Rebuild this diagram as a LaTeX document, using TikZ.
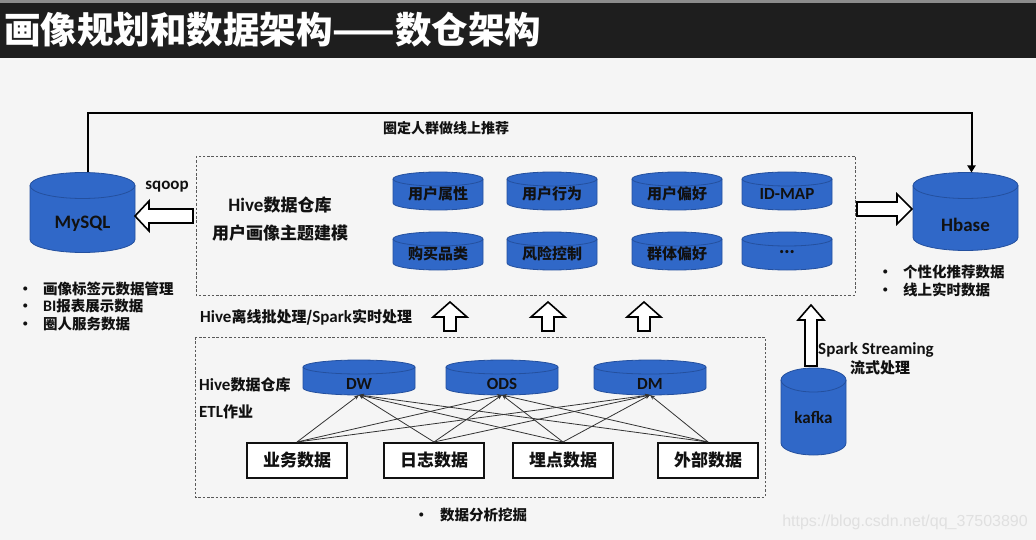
\documentclass[tikz,border=0pt]{standalone}
\usepackage{fontspec}
\setmainfont{Noto Sans CJK SC}
\newfontfamily\lat{Carlito}
\newfontfamily\wmfont{Liberation Sans}
\usetikzlibrary{arrows.meta,calc}
\definecolor{bgcol}{HTML}{F5F5F5}
\definecolor{titlebar}{HTML}{1E1E1E}
\definecolor{cylblue}{HTML}{3068C8}
\definecolor{cyledge}{HTML}{24509E}
\definecolor{ink}{HTML}{111111}
\newcommand\dbcyl[8]{%
  \pgfmathsetmacro\cxl{#2-#4/2}%
  \pgfmathsetmacro\cxr{#2+#4/2}%
  \pgfmathsetmacro\cyt{#3-#5/2+#6}%
  \pgfmathsetmacro\cyb{#3+#5/2-#6}%
  \pgfmathsetmacro\crx{#4/2}%
  \draw[cylbody] (\cxl,\cyt) -- (\cxl,\cyb) arc[start angle=180,end angle=360,x radius=\crx pt,y radius=#6 pt] -- (\cxr,\cyt) arc[start angle=0,end angle=180,x radius=\crx pt,y radius=#6 pt] -- cycle;
  \draw[cylrim] (\cxl,\cyt) arc[start angle=180,end angle=360,x radius=\crx pt,y radius=#6 pt];
  \node[cylnode, minimum width=#4, minimum height=#5] (#1) at (#2,#3) {};
  \node[cyllabel] (#1-l) at (#2,#3+#8) {#7};
}
\begin{document}
\begin{tikzpicture}[x=1pt,y=-1pt,
  cylbody/.style={fill=cylblue, draw=cyledge, line width=0.8pt},
  cylrim/.style={draw=cyledge, line width=0.8pt},
  cylnode/.style={inner sep=0pt, outer sep=0pt, draw=none},
  cyllabel/.style={inner sep=0pt, text=ink, font=\bfseries\fontsize{15}{18}\selectfont},
  txt/.style={inner sep=0pt, text=ink, font=\bfseries\fontsize{15}{18}\selectfont},
  srcbox/.style={draw=ink, line width=2pt, fill=white, minimum width=100, minimum height=35, inner sep=0pt, text=ink, font=\bfseries\fontsize{17}{20}\selectfont},
  dbox/.style={draw=black!65, line width=0.7pt, dash pattern=on 2.5pt off 1.8pt},
  hollow/.style={draw=black, fill=white, line width=1.6pt, line join=miter},
  flow/.style={draw=black!80, line width=0.8pt, -{Stealth[length=5pt,width=4pt]}},
  loopline/.style={draw=black, line width=2pt, -{Triangle[length=7pt,width=8pt]}}
]
\useasboundingbox (0,0) rectangle (1036,540);
\fill[bgcol] (0,0) rectangle (1036,540);
\fill[black!45] (0,0) rectangle (1036,3);
\fill[titlebar] (0,3) rectangle (1036,58);
\node[anchor=west, inner sep=0pt, text=white, font=\bfseries\fontsize{36.5}{40}\selectfont] (title) at (4,30) {画像规划和数据架构——数仓架构};

% dashed regions
\draw[dbox] (196,156) rectangle (855,295);
\draw[dbox] (195,337) rectangle (765,497);

% big cylinders
\dbcyl{mysql}{82.5}{212.5}{105}{80}{13}{{\lat\fontsize{19}{22}\selectfont MySQL}}{11}
\dbcyl{hbase}{965.5}{211.5}{105}{78}{13}{{\lat\fontsize{19}{22}\selectfont Hbase}}{13}
\dbcyl{kafka}{813.5}{411.5}{65}{87}{12}{{\lat\fontsize{17}{20}\selectfont kafka}}{6}

% small cylinders (upper)
\dbcyl{c1}{438}{191}{90}{38}{7}{用户属性}{3}
\dbcyl{c2}{552}{191}{90}{38}{7}{用户行为}{3}
\dbcyl{c3}{677}{191}{90}{38}{7}{用户偏好}{3}
\dbcyl{c4}{787}{191}{90}{38}{7}{{\lat\fontsize{17}{20}\selectfont ID-MAP}}{3}
\dbcyl{c5}{438}{251}{90}{38}{7}{购买品类}{3}
\dbcyl{c6}{552}{251}{90}{38}{7}{风险控制}{3}
\dbcyl{c7}{677}{251}{90}{38}{7}{群体偏好}{3}
\dbcyl{c8}{787}{251}{90}{38}{7}{...}{1}

% lower cylinders
\dbcyl{dw}{359}{377.5}{112}{35}{7}{{\lat\fontsize{17}{20}\selectfont DW}}{6}
\dbcyl{ods}{502}{377.5}{112}{35}{7}{{\lat\fontsize{17}{20}\selectfont ODS}}{6}
\dbcyl{dm}{650}{377.5}{112}{35}{7}{{\lat\fontsize{17}{20}\selectfont DM}}{6}

% source boxes
\node[srcbox] (b1) at (297,460.5) {业务数据};
\node[srcbox] (b2) at (434,460.5) {日志数据};
\node[srcbox] (b3) at (563,460.5) {埋点数据};
\node[srcbox] (b4) at (708,460.5) {外部数据};

\foreach \s in {b1,b2,b3,b4}
  \foreach \t in {dw,ods,dm}
    \draw[flow] (\s.north) -- (\t.south);

% top loop line
\coordinate (loopy) at (0,113);
\draw[loopline] ([xshift=5pt]mysql.north) -- ([xshift=5pt]mysql.north |- loopy) -| ([xshift=6pt]hbase.north);
\node[txt, font=\bfseries\fontsize{14}{17}\selectfont] (looplbl) at (446,128) {圈定人群做线上推荐};

% hollow arrows
\draw[hollow] (135,216) -- (149,201) -- (149,209) -- (193,209) -- (193,223) -- (149,223) -- (149,231) -- cycle;
\draw[hollow] (857,202) -- (897,202) -- (897,194) -- (912,209) -- (897,224) -- (897,216) -- (857,216) -- cycle;
\foreach \cx in {450,548,644}
  \draw[hollow] (\cx,302) -- (\cx+17,317) -- (\cx+6,317) -- (\cx+6,331) -- (\cx-6,331) -- (\cx-6,317) -- (\cx-17,317) -- cycle;
\draw[hollow] (811,305) -- (824,320) -- (817,320) -- (817,366) -- (805,366) -- (805,320) -- (798,320) -- cycle;

% texts
\node[txt, font=\lat\bfseries\fontsize{17}{20}\selectfont] (sqoop) at (167,187) {sqoop};
\node[txt, font=\bfseries\fontsize{17}{20}\selectfont] (hive1) at (280,205) {{\lat\fontsize{19}{20}\selectfont Hive}数据仓库};
\node[txt, font=\bfseries\fontsize{17}{20}\selectfont] (hive2) at (280,233) {用户画像主题建模};
\node[txt, anchor=west] (batch) at (200,317) {{\lat\fontsize{17}{20}\selectfont Hive}离线批处理/{\lat\fontsize{17}{20}\selectfont Spark}实时处理};
\node[txt, anchor=west] (hive3) at (199,385) {{\lat\fontsize{17}{20}\selectfont Hive}数据仓库};
\node[txt, anchor=west] (etl) at (199,412) {{\lat\fontsize{17}{20}\selectfont ETL}作业};
\node[txt, anchor=west, font=\lat\bfseries\fontsize{17}{20}\selectfont] (spark) at (818,350) {Spark Streaming};
\node[txt] (stream) at (880,368) {流式处理};

\node[txt, anchor=west, align=left, font=\bfseries\fontsize{14.5}{17.5}\selectfont] (mlist) at (18,306)
  {\makebox[25pt][l]{•}画像标签元数据管理\\ \makebox[25pt][l]{•}{\lat\fontsize{16}{17.5}\selectfont BI}报表展示数据\\ \makebox[25pt][l]{•}圈人服务数据};
\node[txt, anchor=west, align=left, font=\bfseries\fontsize{14.5}{17.5}\selectfont] (hlist) at (878,281)
  {\makebox[25pt][l]{•}个性化推荐数据\\ \makebox[25pt][l]{•}线上实时数据};
\node[txt, anchor=west, font=\bfseries\fontsize{14.5}{17.5}\selectfont] (dlist) at (414,515) {\makebox[26pt][l]{•}数据分析挖掘};

\node[anchor=east, inner sep=0pt, text=black!12, font=\wmfont\fontsize{16}{18}\selectfont] (wm) at (1028,522) {https://blog.csdn.net/qq\_37503890};
\end{tikzpicture}
\end{document}
